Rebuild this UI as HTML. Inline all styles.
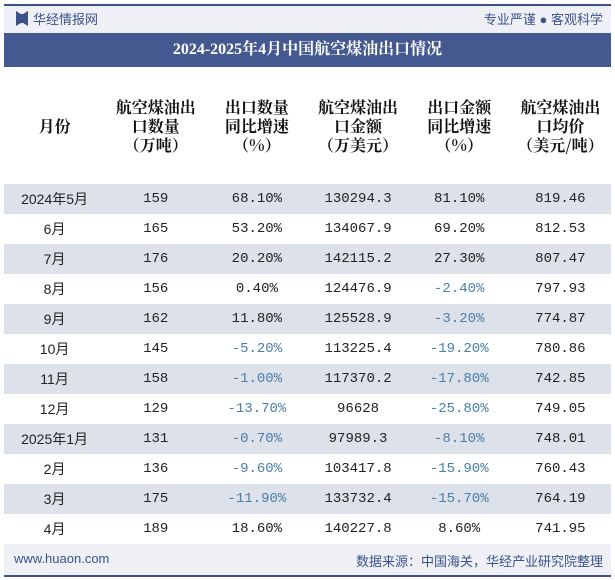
<!DOCTYPE html>
<html><head><meta charset="utf-8"><style>
body{margin:0;width:615px;height:580px;background:#fff;font-family:"Liberation Sans","Noto Sans CJK SC",sans-serif;position:relative;overflow:hidden}
.topline{position:absolute;left:4px;top:4px;width:607px;height:2px;background:#3d5189}
.hdr{position:absolute;left:4px;top:6px;width:607px;height:27px;background:#eef0f5}
.logo{position:absolute;left:16px;top:11px;width:12px;height:15px;background:#3d5189;clip-path:polygon(0 0,40% 20%,60% 20%,100% 0,100% 100%,60% 80%,40% 80%,0 100%)}
.brand{position:absolute;left:33px;top:9px;font-size:13px;color:#3d5189}
.slogan{position:absolute;right:12px;top:9px;font-size:13px;color:#3d5189}
.title{position:absolute;left:4px;top:33px;width:607px;height:34px;background:#44598f;color:#fff;font-family:"Liberation Serif","Noto Serif CJK SC",serif;font-weight:bold;font-size:16px;text-align:center;line-height:34px}
table{position:absolute;left:4px;top:67px;width:607px;border-collapse:collapse;table-layout:fixed}
th{height:117px;font-size:16px;font-weight:bold;color:#111;line-height:19px;padding:0;font-family:"Noto Serif CJK SC",serif}
td{height:30px;padding:0;text-align:center;font-size:14px;color:#222;font-family:"Liberation Mono","Noto Sans CJK SC",monospace}
td:first-child{font-family:"Liberation Sans","Noto Sans CJK SC",sans-serif}
tr.s td{background:#dde1ea}
.n{color:#4a7fa8}
.foot{position:absolute;left:4px;top:544px;width:607px;height:31px;background:#eef0f5}
.fl{position:absolute;left:14px;top:551px;font-size:13px;color:#3d5189}
.fr{position:absolute;right:12px;top:551px;font-size:13px;color:#3d5189}
.botline{position:absolute;left:4px;top:575px;width:607px;height:2px;background:#3d5189}
</style></head><body>
<div class="topline"></div>
<div class="hdr"></div>
<div class="logo"></div>
<div class="brand">华经情报网</div>
<div class="slogan">专业严谨 ● 客观科学</div>
<div class="title">2024-2025年4月中国航空煤油出口情况</div>
<table>
<tr><th>月份</th><th>航空煤油出<br>口数量<br>（万吨）</th><th>出口数量<br>同比增速<br>（%）</th><th>航空煤油出<br>口金额<br>（万美元）</th><th>出口金额<br>同比增速<br>（%）</th><th>航空煤油出<br>口均价<br>（美元/吨）</th></tr>
<tr class="s"><td>2024年5月</td><td>159</td><td>68.10%</td><td>130294.3</td><td>81.10%</td><td>819.46</td></tr>
<tr><td>6月</td><td>165</td><td>53.20%</td><td>134067.9</td><td>69.20%</td><td>812.53</td></tr>
<tr class="s"><td>7月</td><td>176</td><td>20.20%</td><td>142115.2</td><td>27.30%</td><td>807.47</td></tr>
<tr><td>8月</td><td>156</td><td>0.40%</td><td>124476.9</td><td class="n">-2.40%</td><td>797.93</td></tr>
<tr class="s"><td>9月</td><td>162</td><td>11.80%</td><td>125528.9</td><td class="n">-3.20%</td><td>774.87</td></tr>
<tr><td>10月</td><td>145</td><td class="n">-5.20%</td><td>113225.4</td><td class="n">-19.20%</td><td>780.86</td></tr>
<tr class="s"><td>11月</td><td>158</td><td class="n">-1.00%</td><td>117370.2</td><td class="n">-17.80%</td><td>742.85</td></tr>
<tr><td>12月</td><td>129</td><td class="n">-13.70%</td><td>96628</td><td class="n">-25.80%</td><td>749.05</td></tr>
<tr class="s"><td>2025年1月</td><td>131</td><td class="n">-0.70%</td><td>97989.3</td><td class="n">-8.10%</td><td>748.01</td></tr>
<tr><td>2月</td><td>136</td><td class="n">-9.60%</td><td>103417.8</td><td class="n">-15.90%</td><td>760.43</td></tr>
<tr class="s"><td>3月</td><td>175</td><td class="n">-11.90%</td><td>133732.4</td><td class="n">-15.70%</td><td>764.19</td></tr>
<tr><td>4月</td><td>189</td><td>18.60%</td><td>140227.8</td><td>8.60%</td><td>741.95</td></tr>
</table>
<div class="foot"></div>
<div class="fl">www.huaon.com</div>
<div class="fr">数据来源：中国海关，华经产业研究院整理</div>
<div class="botline"></div>
</body></html>
